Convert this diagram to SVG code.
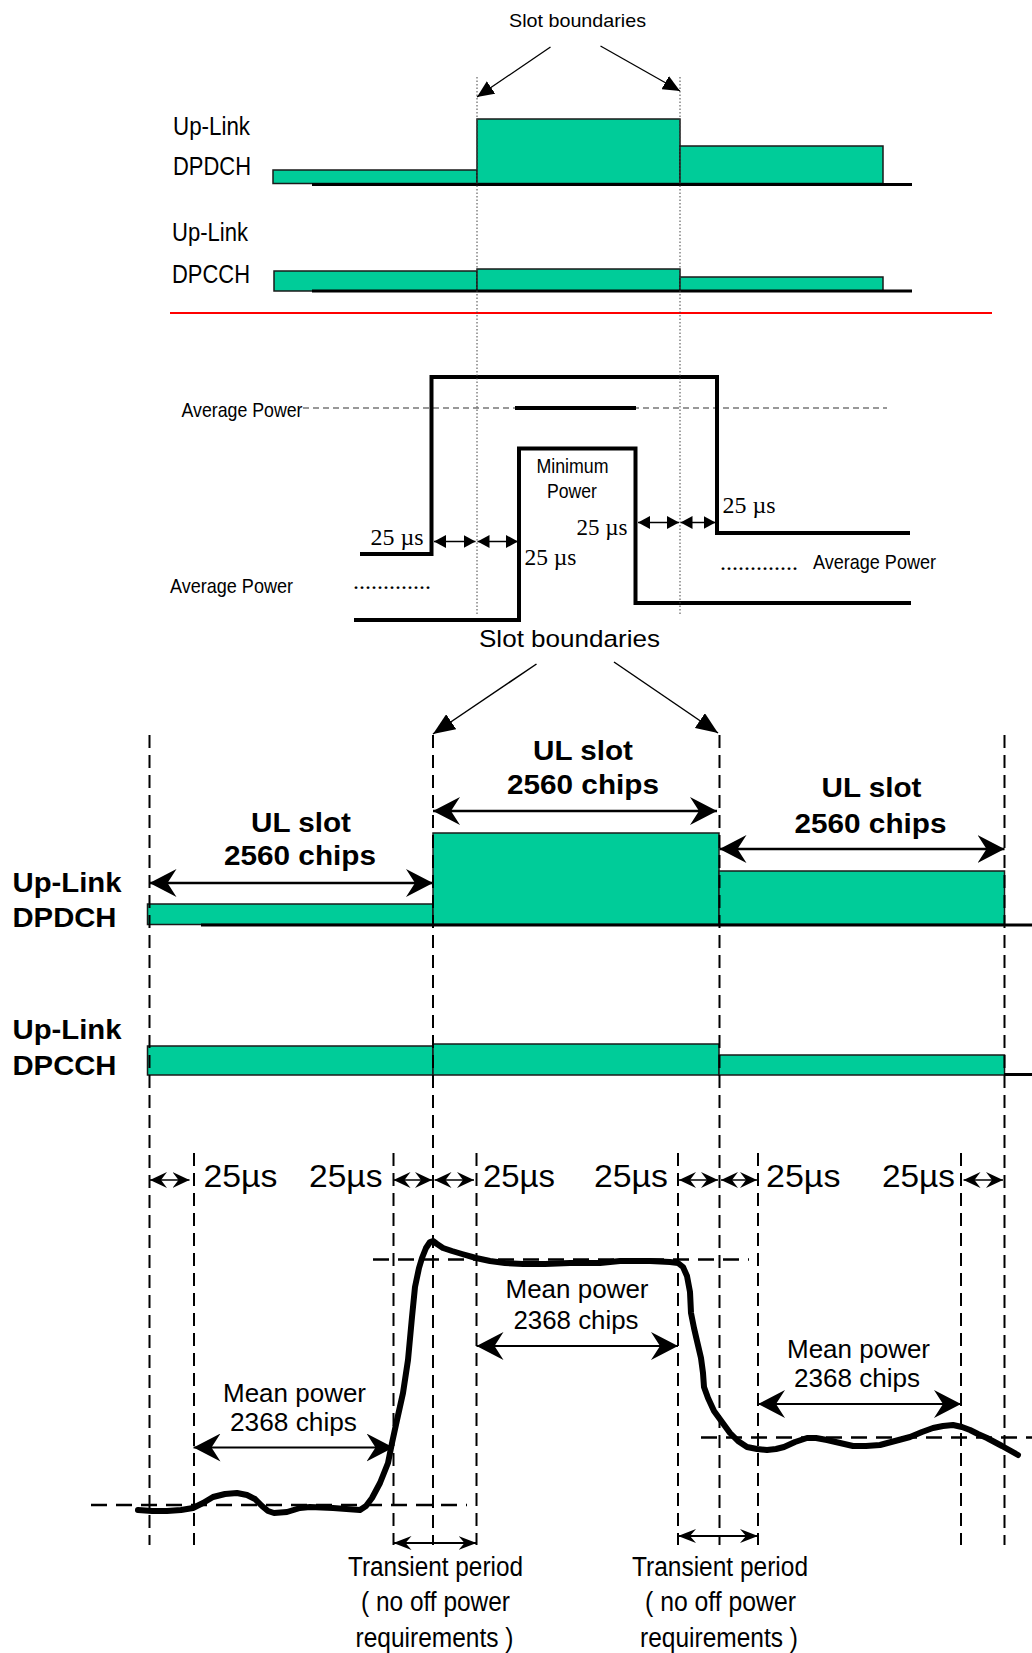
<svg xmlns="http://www.w3.org/2000/svg" width="1032" height="1653" viewBox="0 0 1032 1653">
<defs>
<style>
.sans{font-family:"Liberation Sans",Arial,sans-serif;fill:#000}
.serif{font-family:"Liberation Serif","Times New Roman",serif;fill:#000}
.bold{font-weight:bold}
.bar{fill:#00CC99;stroke:#1a1a1a;stroke-width:1.5}
.base{stroke:#000;stroke-width:3;fill:none}
.dotv{stroke:#444;stroke-width:1;stroke-dasharray:1.5,2;fill:none}
.dashv{stroke:#000;stroke-width:2;stroke-dasharray:13,7;fill:none}
.dashh{stroke:#000;stroke-width:2.5;stroke-dasharray:16,9;fill:none}
.thick{stroke:#000;stroke-width:4;fill:none;stroke-linejoin:miter}
.thin{stroke:#000;stroke-width:1.3;fill:none}
</style>
<marker id="triTop" markerUnits="userSpaceOnUse" viewBox="0 0 17 15" markerWidth="17" markerHeight="15" refX="17" refY="7.5" orient="auto-start-reverse"><path d="M0,0 L17,7.5 L0,15 Z" fill="#000"/></marker>
<marker id="triBig" markerUnits="userSpaceOnUse" viewBox="0 0 22 18" markerWidth="22" markerHeight="18" refX="22" refY="9" orient="auto-start-reverse"><path d="M0,0 L22,9 L0,18 Z" fill="#000"/></marker>
<marker id="triMid" markerUnits="userSpaceOnUse" viewBox="0 0 12 13" markerWidth="12" markerHeight="13" refX="12" refY="6.5" orient="auto-start-reverse"><path d="M0,0 L12,6.5 L0,13 Z" fill="#000"/></marker>
<marker id="barbBig" markerUnits="userSpaceOnUse" viewBox="0 0 27 28" markerWidth="27" markerHeight="28" refX="27" refY="14" orient="auto-start-reverse"><path d="M0,0 L27,14 L0,28 L9,14 Z" fill="#000"/></marker>
<marker id="barbSmall" markerUnits="userSpaceOnUse" viewBox="0 0 17 16" markerWidth="17" markerHeight="16" refX="17" refY="8" orient="auto-start-reverse"><path d="M0,0 L17,8 L0,16 L6,8 Z" fill="#000"/></marker>
<marker id="barbTrans" markerUnits="userSpaceOnUse" viewBox="0 0 18 14" markerWidth="18" markerHeight="14" refX="18" refY="7" orient="auto-start-reverse"><path d="M0,0 L18,7 L0,14 L6,7 Z" fill="#000"/></marker>
</defs>

<!-- ========== TOP SECTION ========== -->
<g id="top-dpdch">
<rect class="bar" x="273" y="170" width="204" height="13.5"/>
<rect class="bar" x="477" y="119" width="203" height="64.5"/>
<rect class="bar" x="680" y="146" width="203" height="37.5"/>
<line class="base" x1="312" y1="184.5" x2="912" y2="184.5"/>
<text class="sans" x="173" y="135" font-size="25" textLength="77" lengthAdjust="spacingAndGlyphs">Up-Link</text>
<text class="sans" x="173" y="175" font-size="25" textLength="78" lengthAdjust="spacingAndGlyphs">DPDCH</text>
</g>
<g id="top-dpcch">
<rect class="bar" x="274" y="271" width="203" height="20"/>
<rect class="bar" x="477" y="269" width="203" height="22"/>
<rect class="bar" x="680" y="277" width="203" height="14"/>
<line class="base" x1="312" y1="291" x2="912" y2="291"/>
<text class="sans" x="172" y="241" font-size="25" textLength="76" lengthAdjust="spacingAndGlyphs">Up-Link</text>
<text class="sans" x="172" y="283" font-size="25" textLength="78" lengthAdjust="spacingAndGlyphs">DPCCH</text>
</g>
<g id="top-slot-boundaries">
<text class="sans" x="509" y="27" font-size="18.5" textLength="137" lengthAdjust="spacingAndGlyphs">Slot boundaries</text>
</g>
<g id="separator">
<line x1="170" y1="313" x2="992" y2="313" stroke="#FF0000" stroke-width="2"/>
</g>

<!-- ========== MIDDLE SECTION ========== -->
<g id="mid-power-levels">
<line x1="303" y1="408" x2="887" y2="408" stroke="#333" stroke-width="1.2" stroke-dasharray="6,4"/>
<line x1="515" y1="408" x2="636" y2="408" stroke="#000" stroke-width="4"/>
<path class="thick" d="M360,554 H431.5 V377 H717 V533 H910"/>
<path class="thick" d="M354,620 H519 V448.5 H635.5 V603 H911"/>
<text class="sans" x="181.5" y="417" font-size="21" textLength="121" lengthAdjust="spacingAndGlyphs">Average Power</text>
<text class="sans" x="170" y="593" font-size="21" textLength="123" lengthAdjust="spacingAndGlyphs">Average Power</text>
<text class="sans" x="813" y="569" font-size="21" textLength="123" lengthAdjust="spacingAndGlyphs">Average Power</text>
<text class="sans" x="536.5" y="472.5" font-size="21" textLength="72" lengthAdjust="spacingAndGlyphs">Minimum</text>
<text class="sans" x="547" y="498" font-size="21" textLength="50" lengthAdjust="spacingAndGlyphs">Power</text>
<text class="serif" x="353" y="589" font-size="24" textLength="78" lengthAdjust="spacing">.............</text>
<text class="serif" x="720" y="570" font-size="24" textLength="78" lengthAdjust="spacing">.............</text>
<text class="serif" x="370.5" y="545" font-size="24" textLength="53" lengthAdjust="spacingAndGlyphs">25 µs</text>
<text class="serif" x="524.5" y="565" font-size="24" textLength="52" lengthAdjust="spacingAndGlyphs">25 µs</text>
<text class="serif" x="576.5" y="535" font-size="24" textLength="51" lengthAdjust="spacingAndGlyphs">25 µs</text>
<text class="serif" x="722.5" y="513" font-size="24" textLength="53" lengthAdjust="spacingAndGlyphs">25 µs</text>
<text class="sans" x="479" y="647" font-size="24.5" textLength="181" lengthAdjust="spacingAndGlyphs">Slot boundaries</text>
</g>

<!-- ========== BOTTOM SECTION ========== -->
<g id="bot-dpdch">
<rect class="bar" x="147.5" y="904" width="285.5" height="20.5"/>
<rect class="bar" x="433" y="833" width="286" height="91.5"/>
<rect class="bar" x="719" y="871" width="285.5" height="53.5"/>
<line class="base" x1="201" y1="925" x2="1032" y2="925"/>
<text class="sans bold" x="12.5" y="891.5" font-size="28" textLength="109" lengthAdjust="spacingAndGlyphs">Up-Link</text>
<text class="sans bold" x="12.5" y="926.5" font-size="28" textLength="104" lengthAdjust="spacingAndGlyphs">DPDCH</text>
</g>
<g id="bot-dpcch">
<rect class="bar" x="147.5" y="1046" width="285.5" height="29"/>
<rect class="bar" x="433" y="1044" width="286" height="31"/>
<rect class="bar" x="719" y="1055" width="285.5" height="20"/>
<line class="base" x1="1004" y1="1074.5" x2="1032" y2="1074.5"/>
<text class="sans bold" x="12.5" y="1039" font-size="28" textLength="109" lengthAdjust="spacingAndGlyphs">Up-Link</text>
<text class="sans bold" x="12.5" y="1075" font-size="28" textLength="104" lengthAdjust="spacingAndGlyphs">DPCCH</text>
</g>
<g id="ul-slot-labels">
<text class="sans bold" x="533" y="759.5" font-size="27" textLength="100" lengthAdjust="spacingAndGlyphs">UL slot</text>
<text class="sans bold" x="507" y="794" font-size="27" textLength="152" lengthAdjust="spacingAndGlyphs">2560 chips</text>
<text class="sans bold" x="251" y="831.5" font-size="27" textLength="100" lengthAdjust="spacingAndGlyphs">UL slot</text>
<text class="sans bold" x="224" y="865" font-size="27" textLength="152" lengthAdjust="spacingAndGlyphs">2560 chips</text>
<text class="sans bold" x="821.5" y="797" font-size="27" textLength="100" lengthAdjust="spacingAndGlyphs">UL slot</text>
<text class="sans bold" x="794.5" y="833" font-size="27" textLength="152" lengthAdjust="spacingAndGlyphs">2560 chips</text>
</g>
<g id="timing-labels">
<text class="sans" x="203.5" y="1186.5" font-size="31" textLength="74" lengthAdjust="spacingAndGlyphs">25µs</text>
<text class="sans" x="309" y="1186.5" font-size="31" textLength="73.5" lengthAdjust="spacingAndGlyphs">25µs</text>
<text class="sans" x="483" y="1186.5" font-size="31" textLength="72" lengthAdjust="spacingAndGlyphs">25µs</text>
<text class="sans" x="594" y="1186.5" font-size="31" textLength="74" lengthAdjust="spacingAndGlyphs">25µs</text>
<text class="sans" x="766" y="1186.5" font-size="31" textLength="74.5" lengthAdjust="spacingAndGlyphs">25µs</text>
<text class="sans" x="882" y="1186.5" font-size="31" textLength="73" lengthAdjust="spacingAndGlyphs">25µs</text>
</g>
<g id="mean-power-labels">
<text class="sans" x="505.5" y="1298" font-size="26" textLength="143" lengthAdjust="spacingAndGlyphs">Mean power</text>
<text class="sans" x="513.5" y="1328.5" font-size="26" textLength="125" lengthAdjust="spacingAndGlyphs">2368 chips</text>
<text class="sans" x="223" y="1401.5" font-size="26" textLength="143" lengthAdjust="spacingAndGlyphs">Mean power</text>
<text class="sans" x="230" y="1430.5" font-size="26" textLength="127" lengthAdjust="spacingAndGlyphs">2368 chips</text>
<text class="sans" x="787" y="1358" font-size="26" textLength="143" lengthAdjust="spacingAndGlyphs">Mean power</text>
<text class="sans" x="794" y="1387" font-size="26" textLength="126" lengthAdjust="spacingAndGlyphs">2368 chips</text>
</g>
<g id="transient-labels">
<text class="sans" x="348" y="1576" font-size="27" textLength="175" lengthAdjust="spacingAndGlyphs">Transient period</text>
<text class="sans" x="361" y="1611" font-size="27" textLength="149" lengthAdjust="spacingAndGlyphs">( no off power</text>
<text class="sans" x="355.5" y="1646.5" font-size="27" textLength="158" lengthAdjust="spacingAndGlyphs">requirements )</text>
<text class="sans" x="632" y="1576" font-size="27" textLength="176" lengthAdjust="spacingAndGlyphs">Transient period</text>
<text class="sans" x="645" y="1611" font-size="27" textLength="151" lengthAdjust="spacingAndGlyphs">( no off power</text>
<text class="sans" x="640" y="1646.5" font-size="27" textLength="158" lengthAdjust="spacingAndGlyphs">requirements )</text>
</g>
<g id="power-curve">
<line class="dashh" x1="373" y1="1259.5" x2="749" y2="1259.5"/>
<line class="dashh" x1="91" y1="1505" x2="467" y2="1505"/>
<line class="dashh" x1="701" y1="1437.5" x2="1032" y2="1437.5"/>
<polyline fill="none" stroke="#000" stroke-width="6" stroke-linejoin="round" stroke-linecap="round" points="138,1510 152,1511 167,1511 181,1510 193,1508 203,1503 213,1497 225,1494 237,1493 247,1495 255,1499 262,1506 268,1511 274,1513 287,1512 300,1508 310,1507 333,1508 360,1510 366,1506 372,1498 380,1483 388,1463 392,1443 397,1420 403,1393 408,1360 412,1317 415,1287 419,1268 422,1258 426,1248 430,1242 433,1241 437,1244 443,1248 452,1251 462,1254 476,1258 490,1261 505,1263 523,1264 545,1264 570,1263 600,1263 620,1261 650,1261 670,1262 678,1263 683,1267 687,1276 690,1292 691,1313 694,1328 697,1341 701,1358 703,1373 704,1387 708,1398 714,1411 722,1422 730,1433 738,1441 747,1447 757,1449 767,1450 776,1449 784,1447 795,1442 807,1438 816,1438 827,1440 840,1443 853,1446 866,1446 880,1445 895,1441 910,1437 922,1432 933,1428 943,1426 953,1425 962,1427 970,1430 978,1434 987,1438 1002,1446 1018,1455"/>
</g>

<!-- ========== CONNECTORS ========== -->
<g id="connectors">
<!-- top section -->
<line class="dotv" x1="477" y1="77" x2="477" y2="615"/>
<line class="dotv" x1="680" y1="77" x2="680" y2="615"/>
<line x1="550.5" y1="47" x2="477" y2="97" stroke="#000" stroke-width="1.3" marker-end="url(#triTop)"/>
<line x1="600.5" y1="46" x2="680" y2="91" stroke="#000" stroke-width="1.3" marker-end="url(#triTop)"/>
<!-- middle section -->
<line class="thin" x1="434" y1="541.5" x2="475.5" y2="541.5" marker-start="url(#triMid)" marker-end="url(#triMid)"/>
<line class="thin" x1="477.5" y1="541.5" x2="518" y2="541.5" marker-start="url(#triMid)" marker-end="url(#triMid)"/>
<line class="thin" x1="638" y1="522.5" x2="679" y2="522.5" marker-start="url(#triMid)" marker-end="url(#triMid)"/>
<line class="thin" x1="680.5" y1="522.5" x2="715.5" y2="522.5" marker-start="url(#triMid)" marker-end="url(#triMid)"/>
<!-- bottom slot boundaries -->
<line x1="536.5" y1="664" x2="433" y2="734" stroke="#000" stroke-width="1.5" marker-end="url(#triBig)"/>
<line x1="614" y1="662" x2="718" y2="733" stroke="#000" stroke-width="1.5" marker-end="url(#triBig)"/>
<!-- vertical dashed guides -->
<line class="dashv" x1="149.5" y1="735" x2="149.5" y2="1545"/>
<line class="dashv" x1="433" y1="735" x2="433" y2="1545"/>
<line class="dashv" x1="719.5" y1="735" x2="719.5" y2="1545"/>
<line class="dashv" x1="1004.5" y1="735" x2="1004.5" y2="1545"/>
<line class="dashv" x1="194" y1="1153" x2="194" y2="1545"/>
<line class="dashv" x1="393.5" y1="1153" x2="393.5" y2="1545"/>
<line class="dashv" x1="476.5" y1="1153" x2="476.5" y2="1545"/>
<line class="dashv" x1="678" y1="1153" x2="678" y2="1545"/>
<line class="dashv" x1="758" y1="1153" x2="758" y2="1545"/>
<line class="dashv" x1="961" y1="1153" x2="961" y2="1545"/>
<!-- UL slot arrows -->
<line x1="149.5" y1="883" x2="433" y2="883" stroke="#000" stroke-width="2.5" marker-start="url(#barbBig)" marker-end="url(#barbBig)"/>
<line x1="433" y1="811" x2="717" y2="811" stroke="#000" stroke-width="2.5" marker-start="url(#barbBig)" marker-end="url(#barbBig)"/>
<line x1="719.5" y1="849" x2="1004.5" y2="849" stroke="#000" stroke-width="2.5" marker-start="url(#barbBig)" marker-end="url(#barbBig)"/>
<!-- 25us arrows -->
<line x1="150" y1="1180" x2="189.5" y2="1180" stroke="#000" stroke-width="1.5" marker-start="url(#barbSmall)" marker-end="url(#barbSmall)"/>
<line x1="393.5" y1="1180" x2="432" y2="1180" stroke="#000" stroke-width="1.5" marker-start="url(#barbSmall)" marker-end="url(#barbSmall)"/>
<line x1="434.5" y1="1180" x2="474" y2="1180" stroke="#000" stroke-width="1.5" marker-start="url(#barbSmall)" marker-end="url(#barbSmall)"/>
<line x1="679" y1="1180" x2="718" y2="1180" stroke="#000" stroke-width="1.5" marker-start="url(#barbSmall)" marker-end="url(#barbSmall)"/>
<line x1="721" y1="1180" x2="757" y2="1180" stroke="#000" stroke-width="1.5" marker-start="url(#barbSmall)" marker-end="url(#barbSmall)"/>
<line x1="963.5" y1="1180" x2="1003" y2="1180" stroke="#000" stroke-width="1.5" marker-start="url(#barbSmall)" marker-end="url(#barbSmall)"/>
<!-- mean power arrows -->
<line x1="476.5" y1="1346" x2="678" y2="1346" stroke="#000" stroke-width="1.8" marker-start="url(#barbBig)" marker-end="url(#barbBig)"/>
<line x1="193.5" y1="1447.5" x2="393.5" y2="1447.5" stroke="#000" stroke-width="1.8" marker-start="url(#barbBig)" marker-end="url(#barbBig)"/>
<line x1="758" y1="1404" x2="961" y2="1404" stroke="#000" stroke-width="1.8" marker-start="url(#barbBig)" marker-end="url(#barbBig)"/>
<!-- transient arrows -->
<line x1="393.5" y1="1543" x2="476.5" y2="1543" stroke="#000" stroke-width="1.8" marker-start="url(#barbTrans)" marker-end="url(#barbTrans)"/>
<line x1="678" y1="1536" x2="758" y2="1536" stroke="#000" stroke-width="1.8" marker-start="url(#barbTrans)" marker-end="url(#barbTrans)"/>
</g>
</svg>
